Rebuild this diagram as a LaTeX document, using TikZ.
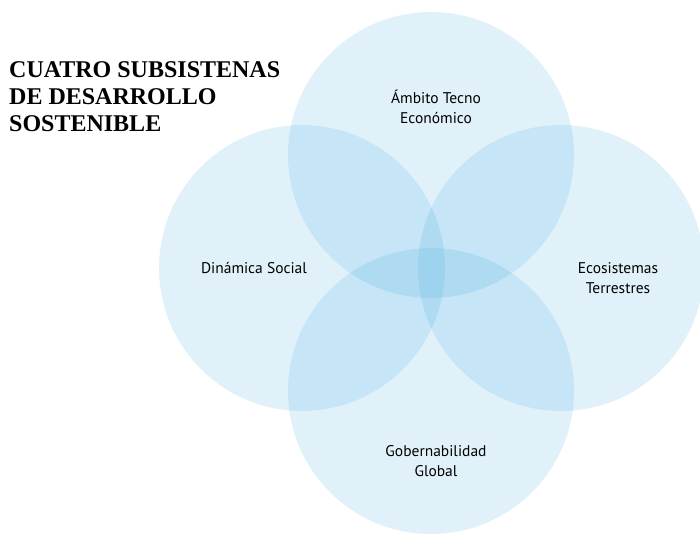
\documentclass[tikz,border=0pt]{standalone}
\usepackage{fontspec}
\setmainfont{Liberation Serif}
\newfontfamily\labelfont{PT Sans}
\usetikzlibrary{calc}
\definecolor{subsysblue}{RGB}{48,162,222}
\tikzstyle{subsystem}=[circle,fill=subsysblue,fill opacity=0.15,draw=none,minimum size=286pt,inner sep=0pt]
\tikzstyle{subsystemlabel}=[align=center,font=\labelfont\fontsize{15.5}{19.5}\selectfont,inner sep=0pt]
\newcommand{\newsubsystem}[2]{% Syntax: {name}{center}
	\node[subsystem] (#1) at (#2) {};
}
\begin{document}
\begin{tikzpicture}[x=1pt,y=-1pt]
	\useasboundingbox (0,0) rectangle (700,534);
	% the four overlapping circles
	\newsubsystem{tecno}{431,155}
	\newsubsystem{social}{302,268}
	\newsubsystem{eco}{561,268}
	\newsubsystem{gob}{431,391}
	%\draw[red] (tecno) -- (gob); % use this to debug
	\node[subsystemlabel] (tecnotext) at ($(tecno)+(5,-48)$) {Ámbito Tecno\\Económico};
	\node[subsystemlabel] (socialtext) at ($(social)+(-48,0)$) {Dinámica Social};
	\node[subsystemlabel] (ecotext) at ($(eco)+(57,10)$) {Ecosistemas\\Terrestres};
	\node[subsystemlabel] (gobtext) at ($(gob)+(5,70)$) {Gobernabilidad\\Global};
	% title (base anchor sits on the last line)
	\node[anchor=base west,align=left,inner sep=0pt,font=\bfseries\fontsize{24}{27}\selectfont] (title) at (9,132) {CUATRO SUBSISTENAS\\DE DESARROLLO\\SOSTENIBLE};
\end{tikzpicture}
\end{document}
